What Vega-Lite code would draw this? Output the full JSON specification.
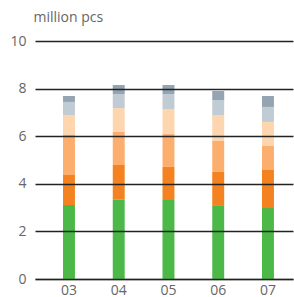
{
  "$schema": "https://vega.github.io/schema/vega-lite/v6.json",
  "autosize": "none",
  "width": 258,
  "height": 238,
  "padding": {"left": 35, "top": 41, "right": 1, "bottom": 18},
  "background": "white",
  "config": {"view": {"stroke": null}, "font": "Open Sans"},
  "data": {"values": [
    {"year": "03", "seg": 1, "v": 3.11}, {"year": "03", "seg": 2, "v": 1.26}, {"year": "03", "seg": 3, "v": 1.68}, {"year": "03", "seg": 4, "v": 0.84}, {"year": "03", "seg": 5, "v": 0.55}, {"year": "03", "seg": 6, "v": 0.25},
    {"year": "04", "seg": 1, "v": 3.33}, {"year": "04", "seg": 2, "v": 1.46}, {"year": "04", "seg": 3, "v": 1.39}, {"year": "04", "seg": 4, "v": 1.00}, {"year": "04", "seg": 5, "v": 0.59}, {"year": "04", "seg": 6, "v": 0.38},
    {"year": "05", "seg": 1, "v": 3.32}, {"year": "05", "seg": 2, "v": 1.39}, {"year": "05", "seg": 3, "v": 1.38}, {"year": "05", "seg": 4, "v": 1.05}, {"year": "05", "seg": 5, "v": 0.63}, {"year": "05", "seg": 6, "v": 0.38},
    {"year": "06", "seg": 1, "v": 3.07}, {"year": "06", "seg": 2, "v": 1.43}, {"year": "06", "seg": 3, "v": 1.30}, {"year": "06", "seg": 4, "v": 1.09}, {"year": "06", "seg": 5, "v": 0.63}, {"year": "06", "seg": 6, "v": 0.38},
    {"year": "07", "seg": 1, "v": 2.98}, {"year": "07", "seg": 2, "v": 1.60}, {"year": "07", "seg": 3, "v": 1.01}, {"year": "07", "seg": 4, "v": 1.01}, {"year": "07", "seg": 5, "v": 0.63}, {"year": "07", "seg": 6, "v": 0.46}
  ]},
  "mark": {"type": "bar"},
  "encoding": {
    "x": {
      "field": "year", "type": "nominal",
      "scale": {"paddingInner": 0.76, "paddingOuter": 0.473, "align": 0.595},
      "axis": {"title": null, "labelAngle": 0, "ticks": false, "labelPadding": 4, "labelFontSize": 14, "labelColor": "#666666", "domainColor": "#777777", "domainWidth": 1.6, "labelFont": "Open Sans"}
    },
    "y": {
      "field": "v", "type": "quantitative", "aggregate": "sum", "stack": "zero",
      "scale": {"domain": [0, 10], "nice": false},
      "axis": {
        "values": [0, 2, 4, 6, 8, 10], "domain": false, "ticks": false, "tickSize": 0,
        "labelPadding": 9, "labelFontSize": 14, "labelColor": "#666666",
        "labelExpr": "datum.value == 10 ? '10\u00a0\u200a' : datum.label",
        "gridColor": "#222222", "gridWidth": 1.4, "zindex": 1,
        "title": "million pcs", "titleAngle": 0, "titleX": -2, "titleY": -20,
        "titleAlign": "left", "titleBaseline": "alphabetic", "titleFontSize": 14,
        "titleFontWeight": "normal", "titleColor": "#666666"
      }
    },
    "color": {
      "field": "seg", "type": "ordinal", "legend": null,
      "scale": {"domain": [1, 2, 3, 4, 5, 6], "range": ["#4cb848", "#f58220", "#fbae6e", "#fdd5ae", "#c0cbd4", "#95a4b2"]}
    },
    "order": {"field": "seg", "type": "ordinal"}
  }
}
